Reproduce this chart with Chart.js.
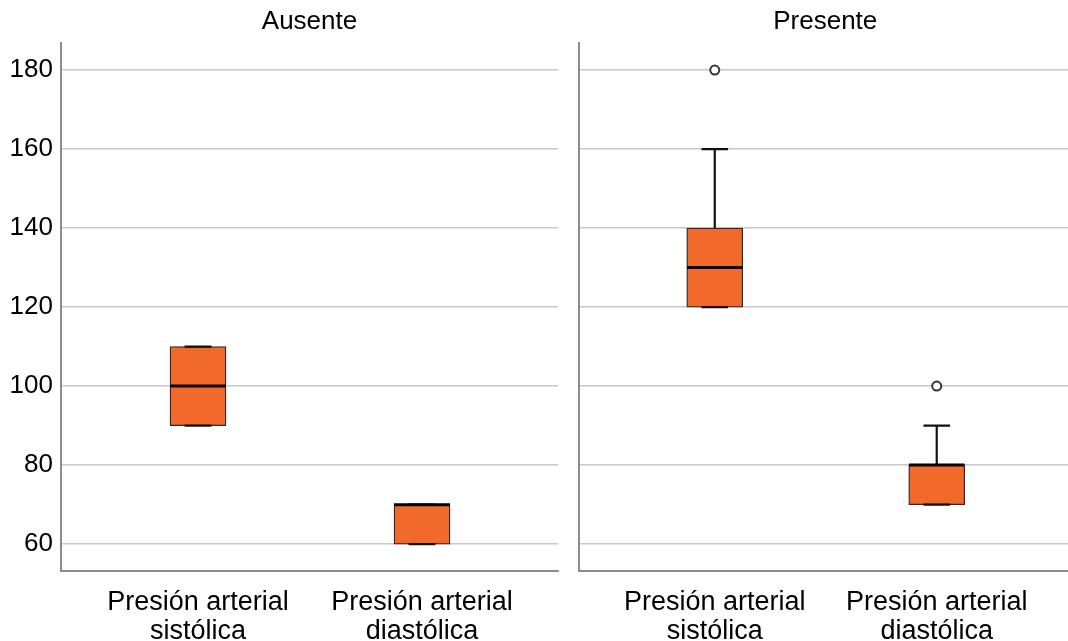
<!DOCTYPE html>
<html>
<head>
<meta charset="utf-8">
<script src="https://cdn.jsdelivr.net/npm/chart.js@4/dist/chart.umd.min.js"></script>
<style>
  html, body { margin: 0; padding: 0; background: #fff; overflow: hidden; }
  #wrap { position: relative; width: 1068px; height: 641px; overflow: hidden; }
  .panel { position: absolute; top: 0; height: 641px; }
  #panelA { left: 0; width: 560px; }
  #panelP { left: 560px; width: 518px; }
</style>
</head>
<body>
<div id="wrap">
  <div class="panel" id="panelA"><canvas id="chartA"></canvas></div>
  <div class="panel" id="panelP"><canvas id="chartP"></canvas></div>
</div>
<script>
// categories and panel names
const categorias = [['Presión arterial', 'sistólica'], ['Presión arterial', 'diastólica']];
const grupos = ['Ausente', 'Presente'];

// Ausente
const ausenteMin = [90, 60];
const ausenteQ1 = [90, 60];
const ausenteMediana = [100, 70];
const ausenteQ3 = [110, 70];
const ausenteMax = [110, 70];
const ausenteAtipicos = [[], []];

// Presente
const presenteMin = [120, 70];
const presenteQ1 = [120, 70];
const presenteMediana = [130, 80];
const presenteQ3 = [140, 80];
const presenteMax = [160, 90];
const presenteAtipicos = [[180], [100]];

// y axis
const yTicks = [60, 80, 100, 120, 140, 160, 180];
const yMin = 53.2;
const yMax = 186.8;

const FONT = '"Liberation Sans", Arial, Helvetica, sans-serif';
const NARANJA = '#f26a2b';
const GRID = '#c8c8c8';
const EJE = '#8c8c8c';
const BOX_HALF = 0.125;   // half box width in x units
const CAP_HALF = 0.06;    // half whisker cap width

function segmentos(list) {
  // list of [x1,y1,x2,y2] -> points with gaps
  const pts = [];
  list.forEach(function (s) {
    pts.push({x: s[0], y: s[1]});
    pts.push({x: s[2], y: s[3]});
    pts.push({x: s[2], y: null});
  });
  return pts;
}

function buildChart(canvasId, titulo, mn, q1, med, q3, mx, atip, showYLabels, axisWidth) {
  const cajas = [], medianas = [], bigotes = [], puntos = [];
  for (let i = 0; i < categorias.length; i++) {
    const c = i + 1;
    cajas.push({x: c, y: [q1[i], q3[i]]});
    medianas.push([c - BOX_HALF, med[i], c + BOX_HALF, med[i]]);
    if (mx[i] > q3[i]) bigotes.push([c, q3[i], c, mx[i]]);
    if (mn[i] < q1[i]) bigotes.push([c, q1[i], c, mn[i]]);
    bigotes.push([c - CAP_HALF, mx[i], c + CAP_HALF, mx[i]]);
    bigotes.push([c - CAP_HALF, mn[i], c + CAP_HALF, mn[i]]);
    atip[i].forEach(function (v) { puntos.push({x: c, y: v}); });
  }

  new Chart(document.getElementById(canvasId), {
    type: 'bar',
    data: {
      datasets: [
        {
          type: 'bar', data: cajas, backgroundColor: NARANJA,
          borderColor: '#2a2a2a', borderWidth: 1.3, borderSkipped: false,
          barThickness: 56, order: 4
        },
        {
          type: 'scatter', data: segmentos(bigotes), showLine: true, spanGaps: false,
          borderColor: '#111', borderWidth: 2.2, pointRadius: 0, order: 3
        },
        {
          type: 'scatter', data: segmentos(medianas), showLine: true, spanGaps: false,
          borderColor: '#000', borderWidth: 3, pointRadius: 0, order: 2
        },
        {
          type: 'scatter', data: puntos, showLine: false,
          pointStyle: 'circle', pointRadius: 4.5, pointBorderWidth: 2,
          pointBorderColor: '#333', pointBackgroundColor: '#fff', order: 1
        }
      ]
    },
    options: {
      responsive: true,
      maintainAspectRatio: false,
      animation: false,
      layout: { padding: { left: 0, right: 2, top: 0, bottom: 0 } },
      plugins: {
        legend: { display: false },
        tooltip: { enabled: false },
        title: {
          display: true, text: titulo, fullSize: false, color: '#000',
          font: { family: FONT, size: 26, weight: 'normal' },
          padding: { top: 6, bottom: 6 }
        }
      },
      scales: {
        x: {
          type: 'linear',
          offset: false,
          min: 1 - 137 / 224,
          max: 2 + 136 / 224,
          afterBuildTicks: function (axis) {
            axis.ticks = categorias.map(function (_, i) { return {value: i + 1}; });
          },
          afterFit: function (axis) { axis.height = 70; },
          grid: { display: false },
          border: { display: true, color: EJE, width: 2 },
          ticks: {
            color: '#000', padding: 10, maxRotation: 0, autoSkip: false,
            font: { family: FONT, size: 27, lineHeight: 1.04 },
            callback: function (v) { return categorias[v - 1] || ''; }
          }
        },
        y: {
          min: yMin,
          max: yMax,
          afterBuildTicks: function (axis) {
            axis.ticks = yTicks.map(function (v) { return {value: v}; });
          },
          afterFit: function (axis) { axis.width = axisWidth; },
          grid: { color: GRID, lineWidth: 1.5, drawTicks: false },
          border: { display: true, color: EJE, width: 2 },
          ticks: {
            display: showYLabels, color: '#000', padding: 8,
            font: { family: FONT, size: 26 }
          }
        }
      }
    }
  });
}

buildChart('chartA', grupos[0], ausenteMin, ausenteQ1, ausenteMediana, ausenteQ3, ausenteMax, ausenteAtipicos, true, 61);
buildChart('chartP', grupos[1], presenteMin, presenteQ1, presenteMediana, presenteQ3, presenteMax, presenteAtipicos, false, 19);
</script>
</body>
</html>
